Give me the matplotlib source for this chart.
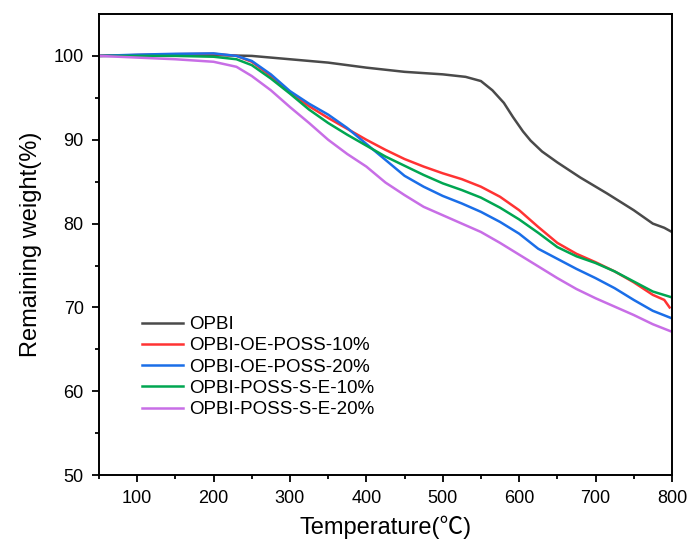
import matplotlib.pyplot as plt
import numpy as np

plt.rcParams['font.family'] = ['Liberation Sans', 'Noto Sans CJK SC', 'DejaVu Sans']

# temperature grid (°C)
temp = [50, 100, 150, 200, 230, 250, 275, 300, 325, 350, 375, 400, 425, 450,
        475, 500, 525, 550, 575, 600, 625, 650, 675, 700, 725, 750, 775, 800]

opbi_t = [50, 100, 150, 200, 250, 300, 350, 400, 450, 500, 530, 550, 565, 580,
          592, 605, 615, 630, 650, 680, 715, 750, 775, 790, 800]
opbi = [100, 100.05, 100.1, 100.1, 100.0, 99.6, 99.2, 98.6, 98.1, 97.8, 97.5,
        97.0, 95.9, 94.4, 92.7, 91.0, 89.9, 88.6, 87.3, 85.5, 83.6, 81.6, 80.0,
        79.5, 79.0]

oe10_t = temp[:-1] + [790, 797]
oe10 = [100, 100.1, 100.2, 100.25, 100.0, 99.3, 97.6, 95.6, 94.0, 92.6, 91.3,
        90.0, 88.8, 87.7, 86.8, 86.0, 85.3, 84.4, 83.2, 81.6, 79.6, 77.7, 76.4,
        75.4, 74.3, 73.0, 71.5, 70.9, 70.0]

oe20 = [100, 100.15, 100.25, 100.3, 100.0, 99.4, 97.8, 95.8, 94.3, 93.0, 91.4,
        89.5, 87.6, 85.7, 84.4, 83.3, 82.4, 81.4, 80.2, 78.8, 77.0, 75.8, 74.6,
        73.5, 72.3, 70.9, 69.6, 68.7]

se10 = [100, 100.0, 100.0, 99.9, 99.6, 98.9, 97.3, 95.5, 93.6, 92.0, 90.6,
        89.3, 88.0, 86.9, 85.8, 84.8, 84.0, 83.1, 81.9, 80.5, 78.9, 77.2, 76.1,
        75.3, 74.3, 73.1, 71.9, 71.2]

se20 = [100, 99.8, 99.6, 99.3, 98.7, 97.6, 95.9, 93.9, 92.0, 90.0, 88.3,
        86.8, 84.9, 83.4, 82.0, 81.0, 80.0, 79.0, 77.7, 76.3, 74.9, 73.5, 72.2,
        71.1, 70.1, 69.1, 68.0, 67.1]

labels = ['OPBI', 'OPBI-OE-POSS-10%', 'OPBI-OE-POSS-20%',
          'OPBI-POSS-S-E-10%', 'OPBI-POSS-S-E-20%']
colors = ['#4a4a4a', '#ff3333', '#1a6ee8', '#00a651', '#c86ee6']

fig = plt.figure(figsize=(6.97, 5.59), dpi=100)
ax = fig.add_axes([0.142, 0.150, 0.822, 0.825])

series = [(opbi_t, opbi), (oe10_t, oe10), (temp, oe20), (temp, se10), (temp, se20)]
for (x, y), lab, c in zip(series, labels, colors):
    ax.plot(x, y, color=c, lw=1.8, label=lab)

ax.set_xlim(50, 800)
ax.set_ylim(50, 105)
ax.set_xticks(np.arange(100, 801, 100))
ax.set_xticks(np.arange(50, 801, 50), minor=True)
ax.set_yticks(np.arange(50, 101, 10))
ax.set_yticks(np.arange(50, 101, 5), minor=True)
ax.tick_params(which='both', direction='out', top=False, right=False,
               labelsize=13, width=1.3)
ax.tick_params(which='major', length=5)
ax.tick_params(which='minor', length=3)
ax.tick_params(axis='y', pad=6)
ax.tick_params(axis='x', pad=6)
for s in ax.spines.values():
    s.set_linewidth(1.4)

ax.set_xlabel('Temperature(℃)', fontsize=17, labelpad=6)
ax.set_ylabel('Remaining weight(%)', fontsize=17, labelpad=8)

ax.legend(loc='upper left', bbox_to_anchor=(0.075, 0.345), frameon=False,
          fontsize=13.5, handlelength=2.2, handletextpad=0.3, labelspacing=0.22,
          borderpad=0, borderaxespad=0)

fig.savefig('out.png', dpi=100)
